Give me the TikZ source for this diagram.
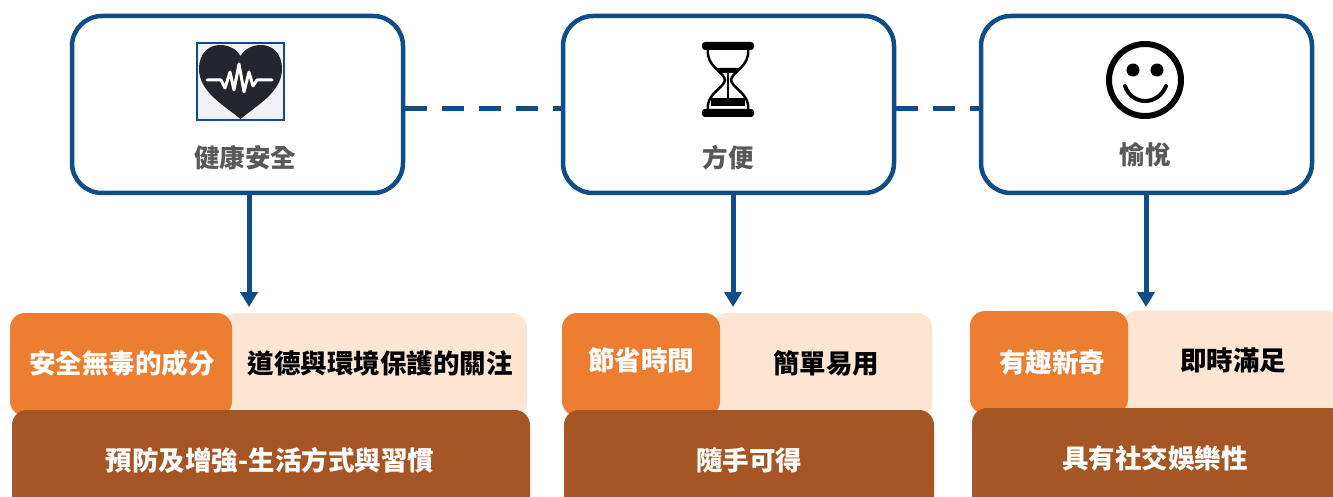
\documentclass[tikz,border=0pt]{standalone}
\usepackage{fontspec}
\newfontfamily\cjk{Noto Sans CJK TC}
\usetikzlibrary{arrows.meta}
\definecolor{dblue}{HTML}{0F4C8A}
\definecolor{orng}{HTML}{ED7D31}
\definecolor{peach}{HTML}{FDE5D4}
\definecolor{brwn}{HTML}{A65624}
\definecolor{gtext}{HTML}{595959}
\definecolor{heartc}{HTML}{25252F}
\definecolor{iconbg}{HTML}{F2F2F6}
\tikzset{
  topbox/.style={draw=dblue, line width=4.5pt, rounded corners=30pt, fill=white,
    minimum width=331pt, minimum height=177pt, inner sep=0pt},
  toplabel/.style={font=\cjk\bfseries\fontsize{25.5}{29}\selectfont, text=gtext, inner sep=0pt},
  dashline/.style={draw=dblue, line width=5pt, dash pattern=on 22pt off 15pt},
  arr/.style={draw=dblue, line width=5pt, -{Triangle[width=17pt,length=15pt]}},
  blk/.style={rounded corners=15pt, inner sep=0pt, draw=none},
  wtext/.style={font=\cjk\bfseries\fontsize{26.5}{30}\selectfont, text=white, inner sep=0pt},
  ktext/.style={font=\cjk\bfseries\fontsize{26.5}{30}\selectfont, text=black, inner sep=0pt},
}
\begin{document}
\begin{tikzpicture}[x=1pt,y=-1pt]
\useasboundingbox (0,0) rectangle (1333,497);
\fill[white] (0,0) rectangle (1333,497);

% top boxes
\node[topbox] (b1) at (237.5,104.5) {};
\node[topbox] (b2) at (728.5,104.5) {};
\node[topbox] (b3) at (1146.5,104.5) {};

% dashed connectors
\draw[dashline] ([yshift=-4.5pt]b1.east) -- ([yshift=-4.5pt]b2.west);
\draw[dashline] ([yshift=-4.5pt]b2.east) -- ([yshift=-4.5pt]b3.west);

% labels
\node[toplabel] (t1) at (245,158) {健康安全};
\node[toplabel] (t2) at (728,158) {方便};
\node[toplabel] (t3) at (1145,155) {愉悅};

% heart icon
\filldraw[fill=iconbg, draw=dblue, line width=1.5pt] (197,43) rectangle (284,120);
\fill[heartc] (240.5,119) .. controls (225,106) and (199,92) .. (199,69)
  .. controls (199,53) and (209,45) .. (220,45)
  .. controls (230,45) and (237,50) .. (240.5,56)
  .. controls (244,50) and (251,45) .. (261,45)
  .. controls (272,45) and (282,53) .. (282,69)
  .. controls (282,92) and (256,106) .. (240.5,119) -- cycle;
\draw[white, line width=3pt, line join=round, line cap=round]
  (207,80) -- (221,80) -- (225,88) -- (230,72) -- (234,90) -- (239,64) -- (244,92)
  -- (249,72) -- (253,86) -- (257,80) -- (272,80);

% hourglass icon
\fill[black, rounded corners=3pt] (702,42) rectangle (754,50);
\fill[black, rounded corners=3pt] (702,109) rectangle (754,117);
\draw[black, line width=2.5pt]
  (708,50) .. controls (706,66) and (724,72) .. (725,80)
  .. controls (724,88) and (706,94) .. (708,109);
\draw[black, line width=2.5pt]
  (748,50) .. controls (750,66) and (732,72) .. (731,80)
  .. controls (732,88) and (750,94) .. (748,109);
\fill[black] (717,68) -- (739,68) -- (736,73) -- (720,73) -- cycle;
\fill[black] (727,72) rectangle (729,98);
\fill[black] (711,98) rectangle (745,106);

% smiley icon
\draw[black, line width=6pt] (1145,80) circle[radius=36pt];
\fill[black] (1133,70) circle[radius=6.5pt];
\fill[black] (1157,70) circle[radius=6.5pt];
\draw[black, line width=4pt, line cap=round] (1125,86) .. controls (1132,106) and (1158,106) .. (1166,86);

% bottom blocks group 1
\node[blk, fill=peach, minimum width=305pt, minimum height=105pt] (p1) at (374.5,365.5) {};
\node[blk, fill=orng, minimum width=222pt, minimum height=103pt] (o1) at (121,364.5) {};
\node[blk, fill=brwn, minimum width=518pt, minimum height=100pt] (r1) at (271,460) {};
% group 2
\node[blk, fill=peach, minimum width=220pt, minimum height=105pt] (p2) at (822,365.5) {};
\node[blk, fill=orng, minimum width=158pt, minimum height=103pt] (o2) at (641,364.5) {};
\node[blk, fill=brwn, minimum width=370pt, minimum height=100pt] (r2) at (749,460) {};
% group 3
\node[blk, fill=peach, minimum width=223pt, minimum height=105pt] (p3) at (1233.5,363.5) {};
\node[blk, fill=orng, minimum width=158pt, minimum height=103pt] (o3) at (1049,362.5) {};
\node[blk, fill=brwn, minimum width=373pt, minimum height=102pt] (r3) at (1158.5,459) {};

% texts
\node[wtext] (s1) at (122,363) {安全無毒的成分};
\node[ktext] (s2) at (380,363) {道德與環境保護的關注};
\node[wtext] (s3) at (270,460) {預防及增強-生活方式與習慣};
\node[wtext] (s4) at (641,360) {節省時間};
\node[ktext] (s5) at (826,363) {簡單易用};
\node[wtext] (s6) at (749,460) {隨手可得};
\node[wtext] (s7) at (1052,362) {有趣新奇};
\node[ktext] (s8) at (1233,360) {即時滿足};
\node[wtext] (s9) at (1155,458) {具有社交娛樂性};

% arrows
\coordinate (a1) at (249,307);
\coordinate (a2) at (733,307);
\coordinate (a3) at (1146,307);
\draw[arr] (a1 |- b1.south) -- (a1);
\draw[arr] (a2 |- b2.south) -- (a2);
\draw[arr] (a3 |- b3.south) -- (a3);
\end{tikzpicture}
\end{document}
